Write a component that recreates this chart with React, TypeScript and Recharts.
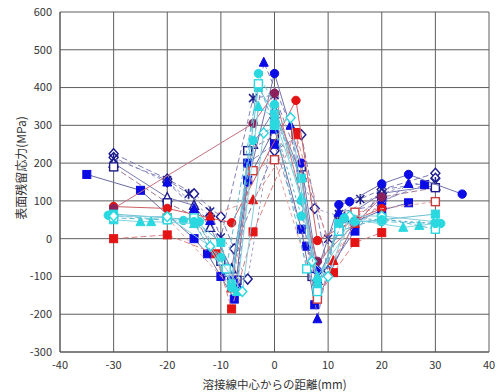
import { ScatterChart, Scatter, XAxis, YAxis, CartesianGrid } from 'recharts';

// x: 溶接線中心からの距離(mm), y: 表面残留応力(MPa)
const xTicks = [-40, -30, -20, -10, 0, 10, 20, 30, 40];
const yTicks = [-300, -200, -100, 0, 100, 200, 300, 400, 500, 600];

const navyDiamond = [[-30, 225], [-20, 158], [-15, 119], [-10, 58], [-7.5, -27], [0, 233], [5, 275], [10, -85], [20, 130], [30, 173]];
const navyDiamond2 = [[-30, 215], [-20, 150], [-12, 60], [-5, -107], [0, 320], [7.5, 80], [12, 60], [20, 120], [30, 160]];
const navyStar = [[-30, 212], [-20, 155], [-16, 119], [-12, 72], [-10, 3], [-4, 372], [0, 380], [10, 0], [12, 65], [16, 105], [20, 130], [30, 150]];
const navyOpenTriangle = [[-30, 200], [-20, 109], [-15, 88], [-12, 30], [-8, -80], [-4, 250], [0, 340], [5, 170], [8, -110], [13, 55], [20, 120], [30, 140]];
const navyOpenSquare = [[-30, 190], [-20, 95], [-15, 60], [-10, -60], [-7, -110], [-5, 233], [0, 272], [5, 190], [7, -100], [12, 20], [20, 110], [30, 135]];

const blueSquare = [[-35, 170], [-25, 128], [-15, 0], [-12.5, -40], [-10, -100], [-7.5, -160], [-5, 155], [0, 290], [5, 25], [7.5, -175], [15, 45], [20, 75], [25, 95]];
const blueSquare2 = [[-8, -110], [-5, 200], [0, 250], [6, -20], [8, -120], [15, 20], [20, 100], [28, 143]];
const blueCircle = [[-8, -120], [-5, 150], [0, 437], [5, 200], [8, -85], [12, 90], [14, 98], [20, 145], [25, 170], [35, 118]];
const blueTriangle = [[-20, 150], [-15, 80], [-12, 48], [-7, -120], [-2, 467], [3, 300], [8, -212], [12, 70], [20, 90], [25, 146]];

const redSquare = [[-30, 0], [-20, 10], [-11, -40], [-8, -186], [-4, 18], [4, 281], [8, -155], [11, -90], [15, -10], [20, 16]];
const redCircle = [[-30, 85], [-20, 80], [-8, 42], [4, 366], [8, -5], [15, 50], [20, 80]];
const redTriangle = [[-12, 60], [-4, 103], [4, 275], [11, -58], [15, 40]];
const redOpenSquare = [[-20, 55], [-8, -130], [-4, 180], [0, 209], [8, -160], [15, 70], [30, 98]];
const purpleCircle = [[-30, 80], [-4, 305], [0, 385], [8, -60], [20, 110]];

const cyanSquare = [[-30, 65], [-20, 55], [-15, 50], [-10, -10], [-8, -120], [-3, 400], [0, 330], [5, 160], [8, -130], [12, 40], [20, 50], [30, 65]];
const cyanCircle = [[-31, 62], [-20, 50], [-17, 48], [-14, 45], [-10, -50], [-8, -120], [-3, 437], [0, 355], [5, 100], [8, -125], [12, 30], [15, 45], [20, 45], [31, 40]];
const cyanTriangle = [[-30, 50], [-25, 45], [-23, 45], [-15, 40], [-7, -140], [-3, 350], [0, 320], [5, 110], [8, -100], [15, 50], [24, 30], [27, 35], [30, 40]];
const cyanOpenSquare = [[-30, 55], [-20, 50], [-15, 55], [-9, -80], [-3, 410], [0, 300], [6, -80], [8, -140], [12, 20], [20, 55], [30, 25]];
const cyanOpenDiamond = [[-30, 60], [-20, 58], [-12, -20], [-6, -140], [-2, 280], [3, 320], [7, -60], [10, -100], [14, 60], [20, 60], [30, 45]];
const cyanCircle2 = [[-15, 45], [-8, -130], [-4, 260], [0, 300], [5, 60], [8, -110], [13, 55], [20, 50], [30, 40]];

const NAVY = '#1c1c8e';
const BLUE = '#0b0be6';
const RED = '#e41414';
const PURPLE = '#8a1f5a';
const CYAN = '#2ad8e0';

type Kind = 'square' | 'circle' | 'triangle' | 'diamond' | 'star';

const marker = (kind: Kind, color: string, filled: boolean) => (props: any) => {
  const { cx, cy } = props;
  if (cx == null || cy == null) return <g />;
  const fill = filled ? color : '#fff';
  const sw = filled ? 1 : 1.4;
  switch (kind) {
    case 'square':
      return <rect x={cx - 4} y={cy - 4} width={8} height={8} fill={fill} stroke={color} strokeWidth={sw} />;
    case 'circle':
      return <circle cx={cx} cy={cy} r={4.2} fill={fill} stroke={color} strokeWidth={sw} />;
    case 'triangle':
      return <polygon points={`${cx},${cy - 5} ${cx + 4.5},${cy + 4} ${cx - 4.5},${cy + 4}`} fill={fill} stroke={color} strokeWidth={sw} />;
    case 'diamond':
      return <polygon points={`${cx},${cy - 5} ${cx + 4.5},${cy} ${cx},${cy + 5} ${cx - 4.5},${cy}`} fill={fill} stroke={color} strokeWidth={sw} />;
    default:
      return (
        <g stroke={color} strokeWidth={1.5}>
          <line x1={cx - 4} y1={cy - 4} x2={cx + 4} y2={cy + 4} />
          <line x1={cx - 4} y1={cy + 4} x2={cx + 4} y2={cy - 4} />
          <line x1={cx} y1={cy - 5} x2={cx} y2={cy + 5} />
        </g>
      );
  }
};

interface SeriesDef {
  name: string;
  points: number[][];
  kind: Kind;
  color: string;
  filled: boolean;
  lineColor: string;
  dash?: string;
}

const series: SeriesDef[] = [
  { name: 'n1', points: navyDiamond, kind: 'diamond', color: NAVY, filled: false, lineColor: '#7c7cb8', dash: '6 3' },
  { name: 'n2', points: navyDiamond2, kind: 'diamond', color: NAVY, filled: false, lineColor: '#9a9ac8', dash: '3 3' },
  { name: 'n3', points: navyStar, kind: 'star', color: NAVY, filled: false, lineColor: '#8080b8', dash: '5 3' },
  { name: 'n4', points: navyOpenTriangle, kind: 'triangle', color: NAVY, filled: false, lineColor: '#7a7ab0' },
  { name: 'n5', points: navyOpenSquare, kind: 'square', color: NAVY, filled: false, lineColor: '#a07890', dash: '6 3' },
  { name: 'b1', points: blueSquare, kind: 'square', color: BLUE, filled: true, lineColor: '#6a6a9e' },
  { name: 'b2', points: blueSquare2, kind: 'square', color: BLUE, filled: true, lineColor: '#8a8ac0', dash: '6 3' },
  { name: 'b3', points: blueCircle, kind: 'circle', color: BLUE, filled: true, lineColor: '#7070ae' },
  { name: 'b4', points: blueTriangle, kind: 'triangle', color: BLUE, filled: true, lineColor: '#7a7abc', dash: '5 3' },
  { name: 'r1', points: redSquare, kind: 'square', color: RED, filled: true, lineColor: '#dc8080', dash: '6 3' },
  { name: 'r2', points: redCircle, kind: 'circle', color: RED, filled: true, lineColor: '#cc6060' },
  { name: 'r3', points: redTriangle, kind: 'triangle', color: RED, filled: true, lineColor: '#e49090', dash: '5 3' },
  { name: 'r4', points: redOpenSquare, kind: 'square', color: '#c83c3c', filled: false, lineColor: '#e4a0a0', dash: '4 3' },
  { name: 'p1', points: purpleCircle, kind: 'circle', color: PURPLE, filled: true, lineColor: '#c47080' },
  { name: 'c1', points: cyanSquare, kind: 'square', color: CYAN, filled: true, lineColor: '#68c0d4' },
  { name: 'c2', points: cyanCircle, kind: 'circle', color: CYAN, filled: true, lineColor: '#70ccdc', dash: '6 3' },
  { name: 'c3', points: cyanTriangle, kind: 'triangle', color: CYAN, filled: true, lineColor: '#80d4e0' },
  { name: 'c4', points: cyanOpenSquare, kind: 'square', color: CYAN, filled: false, lineColor: '#60b8cc', dash: '5 3' },
  { name: 'c5', points: cyanOpenDiamond, kind: 'diamond', color: CYAN, filled: false, lineColor: '#88ccdc' },
  { name: 'c6', points: cyanCircle2, kind: 'circle', color: CYAN, filled: true, lineColor: '#58b0cc', dash: '3 3' },
];

const FONT = '"Noto Sans CJK JP", "Noto Sans", sans-serif';

export default function App() {
  return (
    <div style={{ position: 'absolute', left: 0, top: 0, width: 498, height: 392, background: '#fff' }}>
      <ScatterChart width={498} height={392} margin={{ top: 12, right: 9, bottom: 0, left: 0 }}>
        <CartesianGrid stroke="#5e5e5e" strokeWidth={1} />
        <XAxis
          type="number"
          dataKey="x"
          domain={[-40, 40]}
          ticks={xTicks}
          height={40}
          tickLine={false}
          axisLine={{ stroke: '#555' }}
          tick={{ fill: '#333', fontSize: 11, fontFamily: FONT }}
          tickMargin={3}
          label={{ value: '溶接線中心からの距離(mm)', position: 'insideBottom', offset: 3, fill: '#333', fontSize: 11.5, fontFamily: FONT }}
        />
        <YAxis
          type="number"
          dataKey="y"
          domain={[-300, 600]}
          ticks={yTicks}
          width={60}
          tickLine={false}
          axisLine={{ stroke: '#555' }}
          tick={{ fill: '#333', fontSize: 11, fontFamily: FONT }}
          label={{
            content: () => (
              <text x={20} y={168} transform="rotate(-90 20 168)" textAnchor="middle" dominantBaseline="central" fill="#333" fontSize={12} fontFamily={FONT}>
                表面残留応力(MPa)
              </text>
            ),
          }}
        />
        {series.map((s) => (
          <Scatter
            key={s.name}
            name={s.name}
            data={s.points.map(([x, y]) => ({ x, y }))}
            fill={s.color}
            line={{ stroke: s.lineColor, strokeWidth: 1, strokeDasharray: s.dash }}
            lineType="joint"
            shape={marker(s.kind, s.color, s.filled)}
            isAnimationActive={false}
          />
        ))}
      </ScatterChart>
    </div>
  );
}
